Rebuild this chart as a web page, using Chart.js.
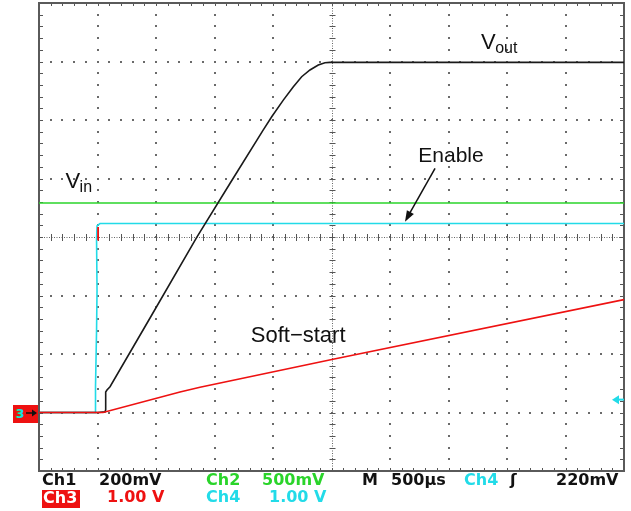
<!DOCTYPE html>
<html>
<head>
<meta charset="utf-8">
<script src="https://cdn.jsdelivr.net/npm/chart.js@4.4.0/dist/chart.umd.min.js"></script>
<style>
  html, body { margin: 0; padding: 0; background: #fff; }
  #wrap { position: relative; width: 631px; height: 511px; overflow: hidden; }
  #scope { position: absolute; left: 0; top: 0; }
  .st { position: absolute; font: bold 16px "DejaVu Sans", sans-serif; line-height: 16px; white-space: pre; }
  .k { color: #111; }
  .g { color: #2ad42a; }
  .c { color: #22dbe8; }
  .r { color: #ee1111; }
  .tag { background: #ee1111; color: #fff; height: 18px; line-height: 15px; width: 37px; padding-left: 1px; }
</style>
</head>
<body>
<div id="wrap">
  <canvas id="scope" width="631" height="511"></canvas>
  <!-- status bar, row 1 -->
  <div class="st k" style="left:42px;top:472px">Ch1</div>
  <div class="st k" style="left:99px;top:472px">200mV</div>
  <div class="st g" style="left:206px;top:472px">Ch2</div>
  <div class="st g" style="left:262px;top:472px">500mV</div>
  <div class="st k" style="left:362px;top:472px">M</div>
  <div class="st k" style="left:391px;top:472px">500µs</div>
  <div class="st c" style="left:464px;top:472px">Ch4</div>
  <div class="st k" style="left:510px;top:472px">ʃ</div>
  <div class="st k" style="left:556px;top:472px">220mV</div>
  <!-- status bar, row 2 -->
  <div class="st tag" style="left:42px;top:490px">Ch3</div>
  <div class="st r" style="left:107px;top:489px">1.00 V</div>
  <div class="st c" style="left:206px;top:489px">Ch4</div>
  <div class="st c" style="left:269px;top:489px">1.00 V</div>
</div>
<script>
// scope setup: 500 us/div, 10 x 8 divisions, every channel's ground 3 div below centre
const US_PER_DIV = 500;
const X_DIVS = 10;
const Y_DIVS = 8;
const GROUND_DIV = -3;

const ch1VoltsPerDiv = 0.2;   // Vout
const ch2VoltsPerDiv = 0.5;   // Vin
const ch3VoltsPerDiv = 1.0;   // Soft-start
const ch4VoltsPerDiv = 1.0;   // Enable
const triggerLevel = 0.22;    // Ch4, 220mV

// traces (time in us from left edge, volts)
const voutTime  = [0, 500, 564, 570, 570, 581, 607, 949, 1348, 1632, 1917, 1989, 2088, 2174, 2245, 2316, 2387, 2444, 2487, 5000];
const voutVolts = [0, 0, 0.002, 0.009, 0.070, 0.077, 0.088, 0.323, 0.599, 0.783, 0.966, 1.011, 1.068, 1.114, 1.148, 1.171, 1.188, 1.196, 1.197, 1.197];

const vinTime  = [0, 5000];
const vinVolts = [1.79, 1.79];

const enableTime  = [0, 479, 483, 492, 496, 492, 496, 521, 5000];
const enableVolts = [0, 0, 0.44, 1.41, 2.09, 2.95, 3.19, 3.23, 3.23];

const softTime  = [0, 547, 1205, 1376, 2513, 5000];
const softVolts = [0, 0, 0.35, 0.43, 0.91, 1.93];

const glitchTime  = [505, 505];
const glitchVolts = [3.17, 2.94];

function toDivs(times, volts, vpd) {
    return times.map((t, i) => ({ x: t, y: volts[i] / vpd + GROUND_DIV }));
}

function trace(data, color, width) {
    return { data, borderColor: color, borderWidth: width || 1.6, pointRadius: 0, tension: 0, fill: false };
}

// dotted graticule, center crosshair with ticks, frame
const graticule = {
    id: 'graticule',
    beforeDatasetsDraw(chart) {
        const { ctx, chartArea: a, scales: { x, y } } = chart;
        const minor = 5;
        const dot = (px, py) => ctx.fillRect(Math.round(px) - 1, Math.round(py) - 1, 2, 2);
        ctx.save();
        ctx.fillStyle = '#6a6a6a';

        for (let i = 1; i < X_DIVS; i++) {
            if (i === X_DIVS / 2) continue;
            const px = x.getPixelForValue(i * US_PER_DIV);
            for (let j = 1; j < Y_DIVS * minor; j++) dot(px, y.getPixelForValue(-Y_DIVS / 2 + j / minor));
        }
        for (let j = 1; j < Y_DIVS; j++) {
            if (j === Y_DIVS / 2) continue;
            const py = y.getPixelForValue(-Y_DIVS / 2 + j);
            for (let i = 1; i < X_DIVS * minor; i++) dot(x.getPixelForValue(i * US_PER_DIV / minor), py);
        }

        // center lines
        const cx = Math.round(x.getPixelForValue(X_DIVS / 2 * US_PER_DIV)) + 0.5;
        const cy = Math.round(y.getPixelForValue(0)) + 0.5;
        ctx.strokeStyle = '#666';
        ctx.lineWidth = 1;
        ctx.setLineDash([1, 1.5]);
        ctx.beginPath();
        ctx.moveTo(a.left, cy); ctx.lineTo(a.right, cy);
        ctx.moveTo(cx, a.top); ctx.lineTo(cx, a.bottom);
        ctx.stroke();
        ctx.setLineDash([]);
        ctx.strokeStyle = '#555';
        ctx.beginPath();
        for (let i = 1; i < X_DIVS * minor; i++) {
            const px = Math.round(x.getPixelForValue(i * US_PER_DIV / minor)) + 0.5;
            ctx.moveTo(px, cy - 3.5); ctx.lineTo(px, cy + 3.5);
            ctx.moveTo(px, a.top); ctx.lineTo(px, a.top + 3);
            ctx.moveTo(px, a.bottom - 3); ctx.lineTo(px, a.bottom);
        }
        for (let j = 1; j < Y_DIVS * minor; j++) {
            const py = Math.round(y.getPixelForValue(-Y_DIVS / 2 + j / minor)) + 0.5;
            ctx.moveTo(cx - 3, py); ctx.lineTo(cx + 3, py);
            ctx.moveTo(a.left, py); ctx.lineTo(a.left + 4, py);
            ctx.moveTo(a.right - 4, py); ctx.lineTo(a.right, py);
        }
        ctx.stroke();

        // frame
        ctx.strokeStyle = '#5a5a5a';
        ctx.lineWidth = 2;
        ctx.strokeRect(a.left, a.top, a.right - a.left, a.bottom - a.top);
        ctx.restore();
    }
};

// trace names, arrow and channel markers
const annotations = {
    id: 'annotations',
    afterDatasetsDraw(chart) {
        const { ctx, chartArea: a, scales: { x, y } } = chart;
        const at = (t, d) => [x.getPixelForValue(t), y.getPixelForValue(d)];
        const face = '"Liberation Sans", Arial, sans-serif';
        ctx.save();
        ctx.fillStyle = '#111';
        ctx.textBaseline = 'alphabetic';

        const withSub = (main, sub, t, d) => {
            const [px, py] = at(t, d);
            ctx.font = '22px ' + face;
            ctx.fillText(main, px, py);
            const w = ctx.measureText(main).width;
            ctx.font = '16px ' + face;
            ctx.fillText(sub, px + w - 0.5, py + 3.5);
        };
        withSub('V', 'out', 3778, 3.209);
        withSub('V', 'in', 226, 0.832);

        ctx.font = '21px ' + face;
        let [px, py] = at(3242, 1.282);
        ctx.fillText('Enable', px, py);
        ctx.font = '22px ' + face;
        [px, py] = at(1810, -1.803);
        ctx.fillText('Soft\u2212start', px, py);

        // arrow pointing at the enable trace
        const [x0, y0] = at(3385, 1.174);
        const [x1, y1] = at(3128, 0.262);
        const ang = Math.atan2(y1 - y0, x1 - x0);
        ctx.strokeStyle = '#111';
        ctx.lineWidth = 1.5;
        ctx.beginPath();
        ctx.moveTo(x0, y0);
        ctx.lineTo(x1 - 8 * Math.cos(ang), y1 - 8 * Math.sin(ang));
        ctx.stroke();
        ctx.beginPath();
        ctx.moveTo(x1, y1);
        ctx.lineTo(x1 - 11 * Math.cos(ang) + 4 * Math.sin(ang), y1 - 11 * Math.sin(ang) - 4 * Math.cos(ang));
        ctx.lineTo(x1 - 11 * Math.cos(ang) - 4 * Math.sin(ang), y1 - 11 * Math.sin(ang) + 4 * Math.cos(ang));
        ctx.closePath();
        ctx.fill();

        // ground marker (all channels overlap, Ch3 on top)
        const gy = y.getPixelForValue(GROUND_DIV);
        ctx.fillStyle = '#ee1111';
        ctx.fillRect(13, gy - 7.5, a.left - 14, 18);
        ctx.font = 'bold 12px "DejaVu Sans", sans-serif';
        ctx.fillStyle = '#2ad42a';
        ctx.fillText('3', 15, gy + 5);
        ctx.fillStyle = '#22dbe8';
        ctx.fillText('3', 16, gy + 5);
        ctx.strokeStyle = '#111';
        ctx.fillStyle = '#111';
        ctx.lineWidth = 1.5;
        ctx.beginPath();
        ctx.moveTo(26, gy + 0.5); ctx.lineTo(34, gy + 0.5);
        ctx.stroke();
        ctx.beginPath();
        ctx.moveTo(37, gy + 0.5); ctx.lineTo(32, gy - 3); ctx.lineTo(32, gy + 4);
        ctx.closePath();
        ctx.fill();

        // trigger level marker, Ch4
        const ty = y.getPixelForValue(triggerLevel / ch4VoltsPerDiv + GROUND_DIV);
        ctx.fillStyle = '#22dbe8';
        ctx.beginPath();
        ctx.moveTo(a.right - 12, ty); ctx.lineTo(a.right - 5, ty - 4.5); ctx.lineTo(a.right - 5, ty + 4.5);
        ctx.closePath();
        ctx.fill();
        ctx.fillRect(a.right - 6, ty - 1, 6, 2);
        ctx.restore();
    }
};

new Chart(document.getElementById('scope'), {
    type: 'line',
    data: {
        datasets: [
            trace(toDivs(glitchTime, glitchVolts, ch3VoltsPerDiv), '#ee1111', 1.8),
            trace(toDivs(softTime, softVolts, ch3VoltsPerDiv), '#ee1111'),
            trace(toDivs(voutTime, voutVolts, ch1VoltsPerDiv), '#1a1a1a'),
            trace(toDivs(enableTime, enableVolts, ch4VoltsPerDiv), '#22dbe8'),
            trace(toDivs(vinTime, vinVolts, ch2VoltsPerDiv), '#2ad42a')
        ]
    },
    options: {
        responsive: false,
        animation: false,
        devicePixelRatio: 1,
        layout: { padding: { left: 39, right: 7, top: 3, bottom: 40 } },
        plugins: { legend: { display: false }, tooltip: { enabled: false } },
        scales: {
            x: { type: 'linear', min: 0, max: X_DIVS * US_PER_DIV, display: false },
            y: { type: 'linear', min: -Y_DIVS / 2, max: Y_DIVS / 2, display: false }
        }
    },
    plugins: [graticule, annotations]
});
</script>
</body>
</html>
